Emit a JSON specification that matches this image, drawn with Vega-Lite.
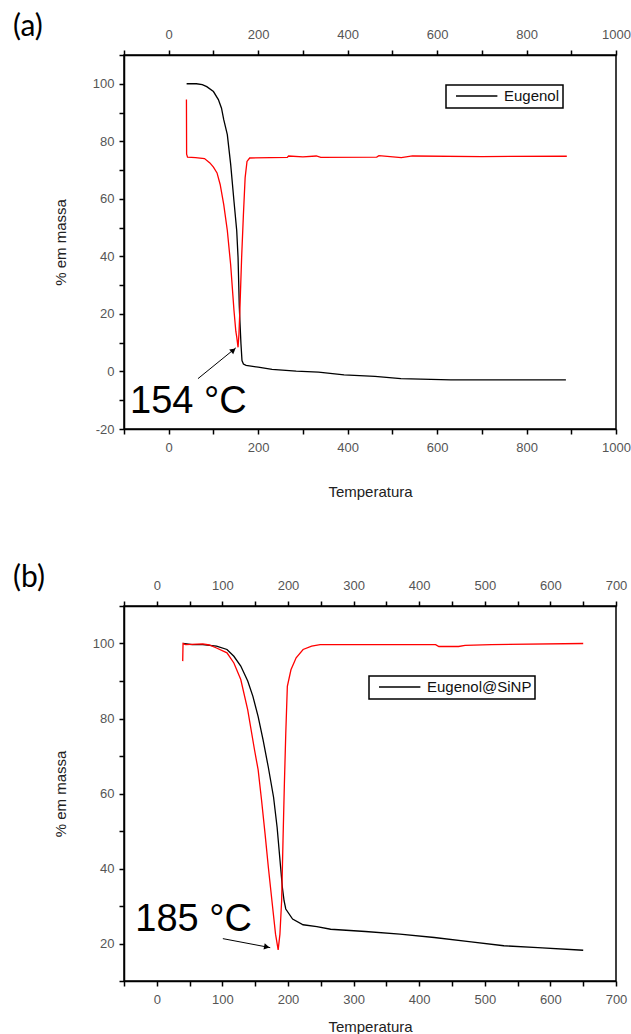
{
  "$schema": "https://vega.github.io/schema/vega-lite/v6.json",
  "background": "white",
  "padding": {"left": 12, "top": 11, "right": 6, "bottom": 0},
  "spacing": 62,
  "config": {
    "view": {"stroke": "black", "strokeWidth": 1.5},
    "axis": {
      "grid": false,
      "domainColor": "black",
      "domainWidth": 1.5,
      "tickColor": "black",
      "tickWidth": 1.5,
      "tickSize": 5,
      "labelFlush": false,
      "labelOverlap": false,
      "labelBound": false,
      "labelFont": "Liberation Sans",
      "labelFontSize": 13,
      "labelColor": "#555555",
      "titleFont": "Liberation Sans",
      "titleFontSize": 15,
      "titleFontWeight": "normal",
      "titleColor": "#222222"
    },
    "legend": {
      "symbolType": "M-4,0H4",
      "symbolSize": 107,
      "symbolStrokeWidth": 1.5,
      "symbolOffset": 19.7,
      "labelOffset": 19.8,
      "padding": 3.5,
      "strokeColor": "black",
      "strokeWidth": 1.5,
      "labelFont": "Liberation Sans",
      "labelFontSize": 15,
      "labelColor": "#111111"
    },
    "title": {"font": "Lato", "fontSize": 30, "fontWeight": "normal", "color": "black"}
  },
  "resolve": {"scale": {"color": "independent", "x": "independent", "y": "independent"}, "legend": {"color": "independent"}},
  "vconcat": [
    {
      "width": 492,
      "height": 374,
      "title": {"text": "(a)", "anchor": "start", "frame": "group", "dx": -111, "baseline": "alphabetic", "offset": 0, "dy": 38},
      "data": {"values": [
        {"T": 40, "m": 100, "s": "Eugenol"},
        {"T": 62, "m": 100, "s": "Eugenol"},
        {"T": 75, "m": 99.7, "s": "Eugenol"},
        {"T": 85, "m": 99, "s": "Eugenol"},
        {"T": 100, "m": 97.3, "s": "Eugenol"},
        {"T": 111, "m": 94.5, "s": "Eugenol"},
        {"T": 118, "m": 91.5, "s": "Eugenol"},
        {"T": 123, "m": 87.5, "s": "Eugenol"},
        {"T": 131, "m": 82.3, "s": "Eugenol"},
        {"T": 138.5, "m": 72, "s": "Eugenol"},
        {"T": 146, "m": 59, "s": "Eugenol"},
        {"T": 152, "m": 49, "s": "Eugenol"},
        {"T": 155, "m": 39.6, "s": "Eugenol"},
        {"T": 157.7, "m": 23, "s": "Eugenol"},
        {"T": 159, "m": 18, "s": "Eugenol"},
        {"T": 161.5, "m": 9.6, "s": "Eugenol"},
        {"T": 163.8, "m": 3.8, "s": "Eugenol"},
        {"T": 167, "m": 2.6, "s": "Eugenol"},
        {"T": 173, "m": 2.1, "s": "Eugenol"},
        {"T": 200, "m": 1.5, "s": "Eugenol"},
        {"T": 231, "m": 0.7, "s": "Eugenol"},
        {"T": 285, "m": 0.1, "s": "Eugenol"},
        {"T": 335, "m": -0.2, "s": "Eugenol"},
        {"T": 392, "m": -1.2, "s": "Eugenol"},
        {"T": 461, "m": -1.7, "s": "Eugenol"},
        {"T": 519, "m": -2.5, "s": "Eugenol"},
        {"T": 631, "m": -2.9, "s": "Eugenol"},
        {"T": 888, "m": -2.9, "s": "Eugenol"},
        {"T": 39.6, "m": 94.5, "s": "DTG"},
        {"T": 40, "m": 75.5, "s": "DTG"},
        {"T": 42, "m": 74.5, "s": "DTG"},
        {"T": 60, "m": 74.3, "s": "DTG"},
        {"T": 80, "m": 74, "s": "DTG"},
        {"T": 92, "m": 72.5, "s": "DTG"},
        {"T": 100, "m": 71, "s": "DTG"},
        {"T": 108, "m": 69, "s": "DTG"},
        {"T": 115, "m": 65, "s": "DTG"},
        {"T": 123, "m": 58, "s": "DTG"},
        {"T": 131, "m": 49, "s": "DTG"},
        {"T": 138.5, "m": 37, "s": "DTG"},
        {"T": 146, "m": 21, "s": "DTG"},
        {"T": 150, "m": 14, "s": "DTG"},
        {"T": 152, "m": 12, "s": "DTG"},
        {"T": 155, "m": 8.4, "s": "DTG"},
        {"T": 157, "m": 13, "s": "DTG"},
        {"T": 159, "m": 21, "s": "DTG"},
        {"T": 163, "m": 39.6, "s": "DTG"},
        {"T": 167, "m": 54.6, "s": "DTG"},
        {"T": 170.8, "m": 67.3, "s": "DTG"},
        {"T": 175, "m": 73, "s": "DTG"},
        {"T": 181, "m": 74.2, "s": "DTG"},
        {"T": 265, "m": 74.4, "s": "DTG"},
        {"T": 268, "m": 74.9, "s": "DTG"},
        {"T": 300, "m": 74.6, "s": "DTG"},
        {"T": 330, "m": 74.9, "s": "DTG"},
        {"T": 340, "m": 74.4, "s": "DTG"},
        {"T": 465, "m": 74.5, "s": "DTG"},
        {"T": 470, "m": 75, "s": "DTG"},
        {"T": 520, "m": 74.3, "s": "DTG"},
        {"T": 545, "m": 74.9, "s": "DTG"},
        {"T": 700, "m": 74.7, "s": "DTG"},
        {"T": 890, "m": 74.8, "s": "DTG"}
      ]},
      "encoding": {
        "y": {"field": "m", "type": "quantitative", "scale": {"domain": [-20, 110], "nice": false, "zero": false},
          "axis": {"title": "% em massa", "values": [-20, -10, 0, 10, 20, 30, 40, 50, 60, 70, 80, 90, 100, 110],
            "labelExpr": "datum.value % 20 == 0 && datum.value <= 100 ? '' + datum.value : ''", "labelPadding": 5, "titlePadding": 24}}
      },
      "layer": [
        {
          "mark": {"type": "line", "strokeWidth": 1.3},
          "encoding": {
            "x": {"field": "T", "type": "quantitative", "scale": {"domain": [-100, 1000], "nice": false, "zero": false},
              "axis": {"orient": "bottom", "title": "Temperatura", "values": [-100, 0, 100, 200, 300, 400, 500, 600, 700, 800, 900, 1000],
                "labelExpr": "datum.value % 200 == 0 && datum.value >= 0 ? '' + datum.value : ''", "labelPadding": 7, "titlePadding": 30}},
            "color": {"field": "s", "type": "nominal", "scale": {"domain": ["Eugenol", "DTG"], "range": ["#000000", "#ff0000"]},
              "legend": {"values": ["Eugenol"], "title": null, "orient": "none", "legendX": 322, "legendY": 30}}
          }
        },
        {
          "data": {"values": [{"T": -86.6, "m": -14.5, "label": "154 °C"}]},
          "mark": {"type": "text", "align": "left", "baseline": "alphabetic", "font": "Liberation Sans", "fontSize": 38, "color": "black"},
          "encoding": {
            "x": {"field": "T", "type": "quantitative", "scale": {"domain": [-100, 1000], "nice": false, "zero": false},
              "axis": {"orient": "top", "title": null, "values": [-100, 0, 100, 200, 300, 400, 500, 600, 700, 800, 900, 1000],
                "labelExpr": "datum.value % 200 == 0 && datum.value >= 0 ? '' + datum.value : ''", "labelPadding": 9}},
            "text": {"field": "label"}
          }
        },
        {
          "data": {"values": [{"T": 65.4, "m": -2.5, "T2": 150, "m2": 8.2}]},
          "mark": {"type": "rule", "color": "black", "strokeWidth": 1},
          "encoding": {
            "x": {"field": "T", "type": "quantitative", "scale": {"domain": [-100, 1000], "nice": false, "zero": false}, "axis": null},
            "x2": {"field": "T2"},
            "y2": {"field": "m2"}
          }
        },
        {
          "data": {"values": [{"T": 144.5, "m": 7.4}]},
          "mark": {"type": "point", "shape": "triangle-up", "filled": true, "color": "black", "opacity": 1, "size": 40, "angle": 51},
          "encoding": {
            "x": {"field": "T", "type": "quantitative", "scale": {"domain": [-100, 1000], "nice": false, "zero": false}, "axis": null}
          }
        }
      ],
      "resolve": {"axis": {"x": "independent"}}
    },
    {
      "width": 492,
      "height": 375,
      "title": {"text": "(b)", "anchor": "start", "frame": "group", "dx": -111, "baseline": "alphabetic", "offset": 0, "dy": 38},
      "data": {"values": [
        {"T": 40, "m": 100, "s": "Eugenol@SiNP"},
        {"T": 54, "m": 99.7, "s": "Eugenol@SiNP"},
        {"T": 70, "m": 99.7, "s": "Eugenol@SiNP"},
        {"T": 91, "m": 99.3, "s": "Eugenol@SiNP"},
        {"T": 107, "m": 98.4, "s": "Eugenol@SiNP"},
        {"T": 117.5, "m": 96.6, "s": "Eugenol@SiNP"},
        {"T": 128, "m": 94, "s": "Eugenol@SiNP"},
        {"T": 138.6, "m": 90, "s": "Eugenol@SiNP"},
        {"T": 146.5, "m": 85.9, "s": "Eugenol@SiNP"},
        {"T": 154.5, "m": 80.5, "s": "Eugenol@SiNP"},
        {"T": 162, "m": 74.3, "s": "Eugenol@SiNP"},
        {"T": 170, "m": 67, "s": "Eugenol@SiNP"},
        {"T": 178, "m": 59, "s": "Eugenol@SiNP"},
        {"T": 183.4, "m": 51, "s": "Eugenol@SiNP"},
        {"T": 188.7, "m": 40.4, "s": "Eugenol@SiNP"},
        {"T": 191.4, "m": 35, "s": "Eugenol@SiNP"},
        {"T": 194, "m": 31.4, "s": "Eugenol@SiNP"},
        {"T": 196.6, "m": 29.2, "s": "Eugenol@SiNP"},
        {"T": 207, "m": 26.5, "s": "Eugenol@SiNP"},
        {"T": 223, "m": 25, "s": "Eugenol@SiNP"},
        {"T": 244, "m": 24.5, "s": "Eugenol@SiNP"},
        {"T": 265, "m": 23.8, "s": "Eugenol@SiNP"},
        {"T": 318, "m": 23.2, "s": "Eugenol@SiNP"},
        {"T": 370.6, "m": 22.5, "s": "Eugenol@SiNP"},
        {"T": 423, "m": 21.6, "s": "Eugenol@SiNP"},
        {"T": 476, "m": 20.5, "s": "Eugenol@SiNP"},
        {"T": 529, "m": 19.4, "s": "Eugenol@SiNP"},
        {"T": 581, "m": 18.9, "s": "Eugenol@SiNP"},
        {"T": 650, "m": 18.2, "s": "Eugenol@SiNP"},
        {"T": 39.5, "m": 95.3, "s": "DTG"},
        {"T": 40, "m": 100, "s": "DTG"},
        {"T": 44, "m": 99.7, "s": "DTG"},
        {"T": 70, "m": 99.9, "s": "DTG"},
        {"T": 80, "m": 99.6, "s": "DTG"},
        {"T": 91, "m": 98.8, "s": "DTG"},
        {"T": 107, "m": 97.5, "s": "DTG"},
        {"T": 117.5, "m": 94.8, "s": "DTG"},
        {"T": 128, "m": 90.4, "s": "DTG"},
        {"T": 138.6, "m": 82.3, "s": "DTG"},
        {"T": 149, "m": 71.6, "s": "DTG"},
        {"T": 154.5, "m": 66.3, "s": "DTG"},
        {"T": 159.7, "m": 58.2, "s": "DTG"},
        {"T": 165, "m": 49.3, "s": "DTG"},
        {"T": 170, "m": 40.4, "s": "DTG"},
        {"T": 175.5, "m": 31.4, "s": "DTG"},
        {"T": 181, "m": 22.5, "s": "DTG"},
        {"T": 185, "m": 18.3, "s": "DTG"},
        {"T": 187.7, "m": 22.5, "s": "DTG"},
        {"T": 190.3, "m": 31.4, "s": "DTG"},
        {"T": 192.4, "m": 47.5, "s": "DTG"},
        {"T": 194.5, "m": 62.7, "s": "DTG"},
        {"T": 196.6, "m": 76, "s": "DTG"},
        {"T": 199, "m": 88.6, "s": "DTG"},
        {"T": 204.5, "m": 93, "s": "DTG"},
        {"T": 212.4, "m": 96.2, "s": "DTG"},
        {"T": 223, "m": 98.4, "s": "DTG"},
        {"T": 236, "m": 99.3, "s": "DTG"},
        {"T": 249, "m": 99.7, "s": "DTG"},
        {"T": 300, "m": 99.7, "s": "DTG"},
        {"T": 425, "m": 99.7, "s": "DTG"},
        {"T": 430, "m": 99.2, "s": "DTG"},
        {"T": 460, "m": 99.2, "s": "DTG"},
        {"T": 470, "m": 99.5, "s": "DTG"},
        {"T": 510, "m": 99.7, "s": "DTG"},
        {"T": 650, "m": 100, "s": "DTG"}
      ]},
      "encoding": {
        "y": {"field": "m", "type": "quantitative", "scale": {"domain": [10, 110], "nice": false, "zero": false},
          "axis": {"title": "% em massa", "values": [10, 20, 30, 40, 50, 60, 70, 80, 90, 100, 110],
            "labelExpr": "datum.value % 20 == 0 && datum.value <= 100 ? '' + datum.value : ''", "labelPadding": 5, "titlePadding": 24}}
      },
      "layer": [
        {
          "mark": {"type": "line", "strokeWidth": 1.3},
          "encoding": {
            "x": {"field": "T", "type": "quantitative", "scale": {"domain": [-50, 700], "nice": false, "zero": false},
              "axis": {"orient": "bottom", "title": "Temperatura", "values": [-50, 0, 50, 100, 150, 200, 250, 300, 350, 400, 450, 500, 550, 600, 650, 700],
                "labelExpr": "datum.value % 100 == 0 && datum.value >= 0 ? '' + datum.value : ''", "labelPadding": 7, "titlePadding": 13}},
            "color": {"field": "s", "type": "nominal", "scale": {"domain": ["Eugenol@SiNP", "DTG"], "range": ["#000000", "#ff0000"]},
              "legend": {"values": ["Eugenol@SiNP"], "title": null, "orient": "none", "legendX": 245, "legendY": 70}}
          }
        },
        {
          "data": {"values": [{"T": -32.7, "m": 23.4, "label": "185 °C"}]},
          "mark": {"type": "text", "align": "left", "baseline": "alphabetic", "font": "Liberation Sans", "fontSize": 38, "color": "black"},
          "encoding": {
            "x": {"field": "T", "type": "quantitative", "scale": {"domain": [-50, 700], "nice": false, "zero": false},
              "axis": {"orient": "top", "title": null, "values": [-50, 0, 50, 100, 150, 200, 250, 300, 350, 400, 450, 500, 550, 600, 650, 700],
                "labelExpr": "datum.value % 100 == 0 && datum.value >= 0 ? '' + datum.value : ''", "labelPadding": 9}},
            "text": {"field": "label"}
          }
        },
        {
          "data": {"values": [{"T": 100.7, "m": 21.3, "T2": 172.9, "m2": 18.9}]},
          "mark": {"type": "rule", "color": "black", "strokeWidth": 1},
          "encoding": {
            "x": {"field": "T", "type": "quantitative", "scale": {"domain": [-50, 700], "nice": false, "zero": false}, "axis": null},
            "x2": {"field": "T2"},
            "y2": {"field": "m2"}
          }
        },
        {
          "data": {"values": [{"T": 167.7, "m": 19.1}]},
          "mark": {"type": "point", "shape": "triangle-up", "filled": true, "color": "black", "opacity": 1, "size": 40, "angle": 101},
          "encoding": {
            "x": {"field": "T", "type": "quantitative", "scale": {"domain": [-50, 700], "nice": false, "zero": false}, "axis": null}
          }
        }
      ],
      "resolve": {"axis": {"x": "independent"}}
    }
  ]
}
